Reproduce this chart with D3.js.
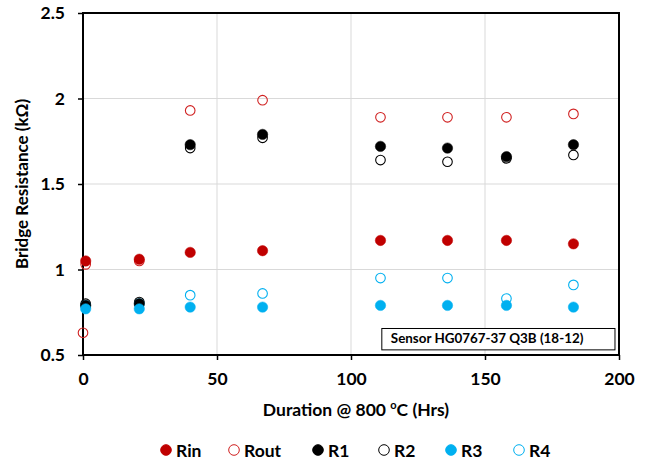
<!DOCTYPE html>
<html><head><meta charset="utf-8">
<script src="https://cdn.jsdelivr.net/npm/d3@7"></script>
<style>body{margin:0;background:#fff;} text{font-family:Lato,"Open Sans",sans-serif;font-weight:bold;}</style>
</head><body>
<svg id="c" width="664" height="462"></svg>
<script>
const hours = [0, 1, 21, 40, 67, 111, 136, 158, 183];
const Rin  = [null, 1.05, 1.06, 1.10, 1.11, 1.17, 1.17, 1.17, 1.15];
const Rout = [0.63, 1.03, 1.05, 1.93, 1.99, 1.89, 1.89, 1.89, 1.91];
const R1   = [null, 0.79, 0.80, 1.73, 1.79, 1.72, 1.71, 1.66, 1.73];
const R2   = [null, 0.80, 0.81, 1.71, 1.77, 1.64, 1.63, 1.65, 1.67];
const R3   = [null, 0.77, 0.77, 0.78, 0.78, 0.79, 0.79, 0.79, 0.78];
const R4   = [null, 0.79, 0.80, 0.85, 0.86, 0.95, 0.95, 0.83, 0.91];
const xTicks = [0, 50, 100, 150, 200];
const yTicks = [0.5, 1, 1.5, 2, 2.5];
const seriesNames = ["Rin", "Rout", "R1", "R2", "R3", "R4"];
const seriesVals = {Rin, Rout, R1, R2, R3, R4};
const seriesColor = {Rin:"#C00000", Rout:"#D02020", R1:"#000000", R2:"#000000", R3:"#00B0F0", R4:"#00B0F0"};
const seriesFilled = {Rin:true, Rout:false, R1:true, R2:false, R3:true, R4:false};
const drawOrder = ["Rout", "R2", "R4", "Rin", "R1", "R3"];
const annotation = "Sensor HG0767-37 Q3B (18-12)";

const svg = d3.select("#c");
const L = 83, R = 619, T = 13, B = 355;
const x = d3.scaleLinear().domain([0, 200]).range([L, R]);
const y = d3.scaleLinear().domain([0.5, 2.5]).range([B, T]);

// grid
svg.append("g").selectAll("line").data(xTicks.slice(1, -1)).join("line")
  .attr("x1", d => x(d)).attr("x2", d => x(d)).attr("y1", T).attr("y2", B)
  .attr("stroke", "#d9d9d9").attr("stroke-width", 1);
svg.append("g").selectAll("line").data(yTicks.slice(1, -1)).join("line")
  .attr("y1", d => y(d)).attr("y2", d => y(d)).attr("x1", L).attr("x2", R)
  .attr("stroke", "#d9d9d9").attr("stroke-width", 1);

// axes
const xAxis = svg.append("g").attr("transform", `translate(0,${B})`)
  .call(d3.axisBottom(x).tickValues(xTicks).tickSize(5).tickPadding(13).tickFormat(d3.format("d")));
const yAxis = svg.append("g").attr("transform", `translate(${L},0)`)
  .call(d3.axisLeft(y).tickValues(yTicks).tickSize(5).tickPadding(13).tickFormat(d => String(d)));
[xAxis, yAxis].forEach(a => {
  a.select(".domain").remove();
  a.selectAll("line").attr("stroke", "#000").attr("stroke-width", 1.5);
  a.selectAll("text").attr("font-size", 17.5).attr("fill", "#000")
    .style("font-family", "Lato, sans-serif").style("font-weight", "bold");
});
// frame
svg.append("rect").attr("x", L).attr("y", T).attr("width", R - L).attr("height", B - T)
  .attr("fill", "none").attr("stroke", "#000").attr("stroke-width", 2);

// annotation box
const ax0 = x(111.5), ax1 = x(198.5);
svg.append("rect").attr("x", ax0).attr("y", y(0.655)).attr("width", ax1 - ax0).attr("height", y(0.53) - y(0.655))
  .attr("fill", "#fff").attr("stroke", "#000").attr("stroke-width", 1);
svg.append("text").attr("x", ax0 + 9).attr("y", y(0.57)).attr("font-size", 13.4).attr("fill", "#000")
  .text(annotation);

// points
drawOrder.forEach(name => {
  const pts = hours.map((h, i) => ({h, v: seriesVals[name][i]})).filter(d => d.v != null);
  svg.append("g").selectAll("circle").data(pts).join("circle")
    .attr("cx", d => x(d.h)).attr("cy", d => y(d.v)).attr("r", seriesFilled[name] ? 5.2 : 4.8)
    .attr("fill", seriesFilled[name] ? seriesColor[name] : "none")
    .attr("stroke", seriesColor[name]).attr("stroke-width", seriesFilled[name] ? 0.5 : 1.1);
});

// axis titles
svg.append("text").attr("x", 356).attr("y", 416).attr("text-anchor", "middle")
  .attr("font-size", 17.5).attr("fill", "#000")
  .html('Duration @ 800 <tspan dy="-7" font-size="11">o</tspan><tspan dy="7">C (Hrs)</tspan>');
svg.append("text").attr("transform", `translate(28,${(T + B) / 2}) rotate(-90)`).attr("text-anchor", "middle")
  .attr("font-size", 17).attr("fill", "#000").text("Bridge Resistance (kΩ)");

// legend
const legX = [166, 234, 318, 384, 451, 519];
const lg = svg.append("g");
seriesNames.forEach((name, i) => {
  lg.append("circle").attr("cx", legX[i]).attr("cy", 450).attr("r", 5.3)
    .attr("fill", seriesFilled[name] ? seriesColor[name] : "none")
    .attr("stroke", seriesColor[name]).attr("stroke-width", 1);
  lg.append("text").attr("x", legX[i] + 10).attr("y", 456.5).attr("font-size", 17.5).attr("fill", "#000").text(name);
});
</script>
</body></html>
